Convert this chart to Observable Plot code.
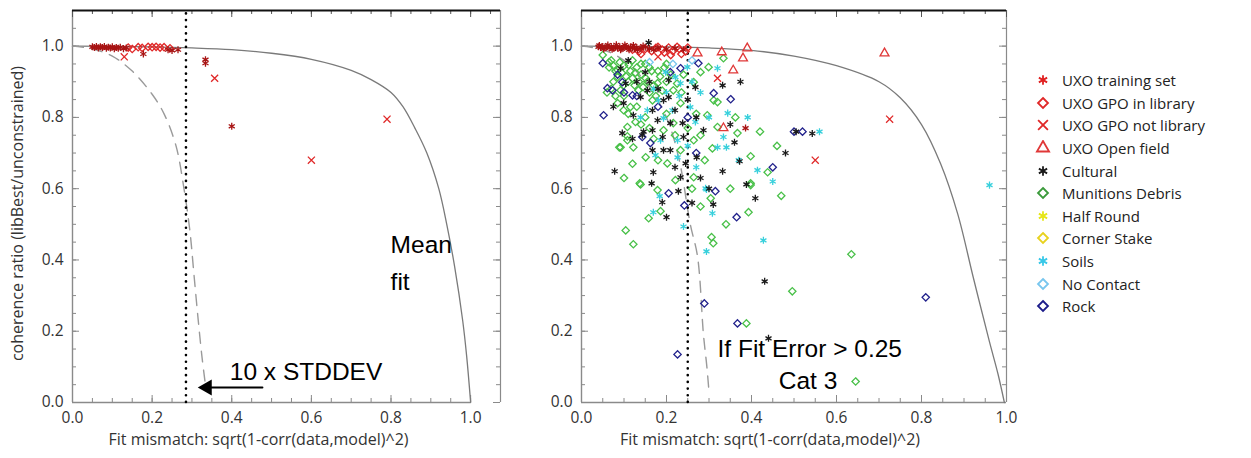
<!DOCTYPE html>
<html><head><meta charset="utf-8">
<script src="https://cdn.jsdelivr.net/npm/d3@7"></script>
<script src="https://cdn.jsdelivr.net/npm/@observablehq/plot@0.6"></script>
<style>
body{margin:0;background:#fff;width:1251px;height:458px;position:relative;overflow:hidden;font-family:"Open Sans",sans-serif}
.panel{position:absolute;top:0}
#legend{position:absolute;left:1034px;top:69px;font-family:"Open Sans",sans-serif;font-size:15px;color:#222}
#legend .row{height:22.6px;display:flex;align-items:center;white-space:nowrap}
#legend svg{width:18px;height:16px;margin-right:10px;flex:none}
</style></head><body>
<div id="p1" class="panel" style="left:0"></div>
<div id="p2" class="panel" style="left:510px"></div>
<div id="legend"></div>
<script>
// ---------- categories ----------
const categories = ["UXO training set","UXO GPO in library","UXO GPO not library","UXO Open field","Cultural","Munitions Debris","Half Round","Corner Stake","Soils","No Contact","Rock"];
const symbols = ["asterisk","diamond2","times","triangle","asterisk","diamond2","asterisk","diamond2","asterisk","diamond2","diamond2"];
const colors = ["#a81414","#e02828","#e02828","#e03838","#1a1a1a","#48c048","#e6e619","#e8d21e","#38d0dc","#78c6ee","#22228c"];
const legendColors = ["#e02020","#e02828","#e02828","#e03838","#1a1a1a","#3a9a3a","#e6e619","#e8d21e","#38c8e8","#78c6ee","#1c1c8a"];

// ---------- axes ----------
const xTicks = [0, 0.2, 0.4, 0.6, 0.8, 1.0];
const yTicks = [0, 0.2, 0.4, 0.6, 0.8, 1.0];

// ---------- left panel: curves ----------
const leftMeanX = [0, 0.2, 0.3, 0.4, 0.5, 0.6, 0.7, 0.75, 0.8, 0.83, 0.86, 0.89, 0.92, 0.94, 0.96, 0.98, 0.99, 1.0];
const leftMeanY = [1.0, 0.998, 0.995, 0.99, 0.98, 0.963, 0.932, 0.906, 0.87, 0.83, 0.77, 0.7, 0.6, 0.5, 0.38, 0.23, 0.13, 0.0];
const leftDashX = [0, 0.05, 0.1, 0.15, 0.2, 0.23, 0.26, 0.28, 0.295, 0.305, 0.315, 0.325, 0.335];
const leftDashY = [1.0, 0.992, 0.972, 0.93, 0.865, 0.81, 0.72, 0.6, 0.48, 0.36, 0.24, 0.13, 0.04];
const leftCutoff = [0.285];

// ---------- left panel: points ----------
const leftTraining = [[0.05,0.998],[0.055,0.996],[0.06,0.999],[0.065,0.995],[0.07,0.998],[0.075,0.996],[0.08,0.999],[0.085,0.994],[0.09,0.997],[0.095,0.995],[0.1,0.998],[0.105,0.993],[0.11,0.996],[0.115,0.994],[0.12,0.997],[0.128,0.993],[0.135,0.995],[0.178,0.978],[0.24,0.99],[0.25,0.988],[0.265,0.99],[0.334,0.962],[0.334,0.952],[0.40,0.775]];
const leftGpoIn = [[0.14,0.996],[0.15,0.992],[0.165,0.997],[0.175,0.995],[0.19,0.998],[0.2,0.997],[0.21,0.998],[0.22,0.996],[0.23,0.997],[0.245,0.994]];
const leftGpoNot = [[0.13,0.97],[0.357,0.91],[0.79,0.795],[0.6,0.68]];

// ---------- right panel: curves ----------
const rightMeanX = [0, 0.2, 0.3, 0.4, 0.5, 0.6, 0.7, 0.75, 0.8, 0.845, 0.885, 0.922, 0.96, 0.98, 0.995];
const rightMeanY = [1.0, 0.998, 0.995, 0.988, 0.972, 0.945, 0.9, 0.855, 0.78, 0.67, 0.53, 0.35, 0.17, 0.08, 0.0];
const rightDashX = [0, 0.05, 0.1, 0.15, 0.2, 0.23, 0.256, 0.273, 0.287, 0.295, 0.3];
const rightDashY = [1.0, 0.99, 0.96, 0.9, 0.8, 0.68, 0.5, 0.41, 0.19, 0.1, 0.03];
const rightCutoff = [0.25];

// ---------- right panel: points ----------
const rTraining = [[0.04,0.998],[0.045,0.996],[0.05,0.999],[0.055,0.995],[0.06,0.998],[0.065,0.996],[0.07,0.999],[0.075,0.994],[0.08,0.997],[0.085,0.995],[0.09,0.998],[0.095,0.993],[0.1,0.996],[0.105,0.999],[0.11,0.994],[0.115,0.997],[0.12,0.995],[0.125,0.992],[0.13,0.996],[0.14,0.994],[0.15,0.997],[0.16,0.993],[0.18,0.995],[0.2,0.992],[0.22,0.994],[0.24,0.99],[0.386,0.77],[0.042,1.002],[0.052,0.992],[0.062,1.003],[0.072,0.991],[0.082,1.004],[0.092,0.99],[0.102,1.003],[0.112,0.99],[0.122,1.002],[0.132,0.99],[0.145,1.0],[0.17,0.99]];
const rGpoIn = [[0.12,0.99],[0.135,0.985],[0.15,0.992],[0.165,0.986],[0.175,0.995],[0.19,0.99],[0.205,0.996],[0.215,0.986],[0.23,0.992],[0.245,0.985],[0.14,0.978],[0.18,0.998],[0.195,0.982],[0.21,0.975],[0.225,0.998],[0.235,0.978],[0.25,0.996]];
const rGpoNot = [[0.18,0.97],[0.32,0.91],[0.725,0.795],[0.55,0.68]];
const rOpen = [[0.273,0.98],[0.33,0.983],[0.39,0.994],[0.38,0.966],[0.357,0.932],[0.334,0.77],[0.713,0.98]];
const rCultural = [[0.158,1.01],[0.374,0.9],[0.332,0.89],[0.268,0.885],[0.205,0.905],[0.15,0.927],[0.092,0.938],[0.104,0.895],[0.075,0.83],[0.165,0.615],[0.228,0.593],[0.19,0.562],[0.388,0.612],[0.409,0.573],[0.31,0.556],[0.431,0.34],[0.44,0.18],[0.099,0.84],[0.155,0.876],[0.193,0.848],[0.167,0.82],[0.122,0.806],[0.139,0.857],[0.205,0.857],[0.179,0.792],[0.209,0.784],[0.096,0.756],[0.146,0.76],[0.167,0.764],[0.143,0.75],[0.191,0.745],[0.167,0.708],[0.193,0.708],[0.209,0.708],[0.238,0.784],[0.24,0.745],[0.287,0.764],[0.36,0.73],[0.372,0.677],[0.332,0.649],[0.271,0.688],[0.245,0.671],[0.233,0.632],[0.169,0.646],[0.078,0.649],[0.543,0.755],[0.505,0.76],[0.11,0.96],[0.13,0.9],[0.16,0.9],[0.18,0.88],[0.22,0.82],[0.25,0.85],[0.27,0.8],[0.12,0.74],[0.22,0.66],[0.28,0.63],[0.3,0.6],[0.26,0.56],[0.2,0.52],[0.48,0.7],[0.35,0.78]];
const rDebris = [[0.05,0.975],[0.085,0.913],[0.092,0.876],[0.099,0.82],[0.108,0.773],[0.089,0.716],[0.108,0.747],[0.137,0.615],[0.104,0.483],[0.122,0.444],[0.139,0.612],[0.179,0.596],[0.186,0.537],[0.158,0.517],[0.398,0.61],[0.393,0.534],[0.304,0.573],[0.306,0.464],[0.31,0.447],[0.635,0.416],[0.496,0.312],[0.388,0.222],[0.645,0.059],[0.111,0.947],[0.085,0.933],[0.127,0.925],[0.099,0.89],[0.134,0.876],[0.115,0.829],[0.127,0.787],[0.167,0.848],[0.216,0.876],[0.233,0.84],[0.179,0.896],[0.151,0.91],[0.108,0.736],[0.122,0.716],[0.092,0.716],[0.216,0.784],[0.193,0.764],[0.202,0.671],[0.151,0.688],[0.311,0.848],[0.296,0.806],[0.32,0.843],[0.362,0.8],[0.367,0.756],[0.32,0.773],[0.308,0.713],[0.398,0.691],[0.438,0.646],[0.398,0.615],[0.334,0.966],[0.299,0.941],[0.264,0.899],[0.28,0.927],[0.233,0.708],[0.264,0.736],[0.264,0.632],[0.221,0.624],[0.07,0.96],[0.065,0.94],[0.12,0.96],[0.14,0.95],[0.16,0.94],[0.18,0.93],[0.2,0.95],[0.075,0.9],[0.06,0.87],
  [0.065,0.955],[0.075,0.945],[0.08,0.93],[0.09,0.955],[0.095,0.925],[0.1,0.945],[0.105,0.915],[0.11,0.9],[0.115,0.93],[0.12,0.91],[0.125,0.89],[0.13,0.94],[0.135,0.9],[0.14,0.92],[0.145,0.885],[0.15,0.95],[0.155,0.9],[0.16,0.87],[0.165,0.93],[0.17,0.89],[0.175,0.86],[0.185,0.915],[0.19,0.875],[0.195,0.94],[0.2,0.9],[0.21,0.92],[0.225,0.895],[0.235,0.87],[0.24,0.92],[0.07,0.88],[0.08,0.86],[0.085,0.84],[0.1,0.86],[0.11,0.81],[0.13,0.83],[0.14,0.78],[0.15,0.8],[0.16,0.77],[0.17,0.74],[0.2,0.81],[0.22,0.75],[0.25,0.77],[0.27,0.81],[0.28,0.75],[0.29,0.68],[0.26,0.6],[0.18,0.68],[0.12,0.67],[0.1,0.63],[0.28,0.55],[0.35,0.6],[0.34,0.5],[0.42,0.76],[0.46,0.72],[0.47,0.58]];
const rHalfRound = [];
const rCornerStake = [];
const rSoils = [[0.184,0.579],[0.169,0.534],[0.294,0.598],[0.308,0.531],[0.24,0.494],[0.294,0.424],[0.428,0.455],[0.249,0.941],[0.32,0.938],[0.198,0.927],[0.221,0.913],[0.233,0.896],[0.181,0.848],[0.155,0.82],[0.214,0.82],[0.193,0.798],[0.139,0.8],[0.256,0.829],[0.268,0.787],[0.391,0.8],[0.344,0.812],[0.334,0.745],[0.32,0.716],[0.174,0.694],[0.186,0.736],[0.226,0.736],[0.292,0.601],[0.414,0.652],[0.341,0.716],[0.226,0.688],[0.96,0.61],[0.17,0.88],[0.2,0.87],[0.23,0.86],[0.26,0.9],[0.28,0.87],[0.3,0.8],[0.25,0.72],[0.27,0.66],[0.37,0.68],[0.45,0.62],[0.56,0.76]];
const rNoContact = [[0.16,0.955],[0.215,0.95],[0.26,0.96]];
const rRock = [[0.05,0.952],[0.061,0.882],[0.052,0.806],[0.096,0.899],[0.12,0.862],[0.209,0.927],[0.233,0.938],[0.275,0.952],[0.351,0.851],[0.311,0.868],[0.162,0.728],[0.143,0.745],[0.205,0.587],[0.315,0.593],[0.242,0.553],[0.365,0.52],[0.289,0.278],[0.367,0.222],[0.226,0.135],[0.81,0.295],[0.073,0.876],[0.5,0.76],[0.085,0.92],[0.1,0.87],[0.13,0.86],[0.18,0.83],[0.25,0.8],[0.27,0.7],[0.45,0.66],[0.52,0.76]];

// ---------- annotations ----------
const leftNotes = [{x:0.799, y:0.441, text:"Mean"}, {x:0.799, y:0.337, text:"fit"}, {x:0.395, y:0.085, text:"10 x STDDEV"}];
const leftArrowX = [0.477, 0.338];
const leftArrowY = [0.042, 0.042];
const rightNotes = [{x:0.32, y:0.149, text:"If Fit Error > 0.25"}, {x:0.464, y:0.059, text:"Cat 3"}];
const xTitle = "Fit mismatch: sqrt(1-corr(data,model)^2)";
const yTitle = "coherence ratio (libBest/unconstrained)";

function toRecords(groups) {
  const out = [];
  for (const [cat, pts] of groups) for (const [x, y] of pts) out.push({x, y, cat});
  return out;
}
const zip = (xs, ys) => xs.map((x, i) => [x, ys[i]]);

const H = 458, MT = 10, MB = 56, YMAX = 1.1;

function panel(cfg) {
  const {width, ml, mr, xMax, xAxisEnd, mean, dash, cutoff, recs, notes, arrow, titleDx, showYTitle} = cfg;
  const ppx = (width - ml - mr) / xMax;
  const ppy = (H - MT - MB) / YMAX;
  const lx = p => p / ppx, ly = p => p / ppy;
  const minorX = d3.range(0, xMax - 0.01, 0.05);
  const minorXB = d3.range(0, xAxisEnd + 1e-9, 0.05);
  const minorY = d3.range(0, 1.0501, 0.05);
  const axisC = "#8a8a8a";
  const marks = [
    Plot.ruleY([0], {x1: 0, x2: xAxisEnd, stroke: axisC, strokeWidth: 1.4}),
    Plot.ruleX([0], {y1: 0, y2: YMAX, stroke: axisC, strokeWidth: 1.4}),
    Plot.ruleX([xMax], {y1: 0, y2: YMAX, stroke: axisC, strokeWidth: 1.2}),
    Plot.ruleX(minorXB, {y1: 0, y2: ly(4), stroke: axisC}),
    Plot.ruleX(xTicks, {y1: 0, y2: ly(7), stroke: axisC}),
    Plot.ruleX(minorX, {y1: YMAX, y2: YMAX - ly(4), stroke: "#555"}),
    Plot.ruleX(xTicks, {y1: YMAX, y2: YMAX - ly(7), stroke: "#555"}),
    Plot.ruleY(minorY, {x1: 0, x2: lx(4), stroke: axisC}),
    Plot.ruleY(yTicks, {x1: 0, x2: lx(7), stroke: axisC}),
    Plot.ruleY(minorY, {x1: xMax, x2: xMax - lx(4), stroke: axisC}),
    Plot.ruleY(yTicks, {x1: xMax, x2: xMax - lx(7), stroke: axisC}),
    Plot.ruleY([YMAX], {x1: 0, x2: xMax, stroke: "#111", strokeWidth: 1.8}),
    Plot.axisX({ticks: xTicks, tickSize: 0, tickPadding: 9, tickFormat: d3.format(".1f"), label: null, fontSize: 15.5, fill: "#333"}),
    Plot.axisY({ticks: yTicks, tickSize: 0, tickPadding: 9, tickFormat: d3.format(".1f"), label: null, fontSize: 15.5, fill: "#333"}),
    Plot.text([xTitle], {frameAnchor: "bottom", textAnchor: "middle", dy: 42, dx: titleDx, fontSize: 16, fill: "#333", fontFamily: "Open Sans"}),
    Plot.line(mean, {stroke: "#7a7a7a", strokeWidth: 1.3, curve: "catmull-rom"}),
    Plot.line(dash, {stroke: "#9a9a9a", strokeWidth: 1.4, strokeDasharray: "11,8", curve: "catmull-rom"}),
    Plot.ruleX(cutoff, {y1: 0, y2: YMAX, stroke: "#000", strokeWidth: 2.6, strokeDasharray: "0.1,6.6", strokeLinecap: "round"}),
    Plot.dot(recs, {x: "x", y: "y", symbol: "cat", stroke: "cat", fill: "none", r: 3.3, strokeWidth: 1.3}),
    Plot.text(notes, {x: "x", y: "y", text: "text", textAnchor: "start", fontSize: 24.5, fill: "#000", fontFamily: "Liberation Sans, Arial, sans-serif"})
  ];
  if (showYTitle) marks.push(Plot.text([yTitle], {frameAnchor: "left", textAnchor: "middle", rotate: -90, dx: -55, dy: 7, fontSize: 16, fill: "#333", fontFamily: "Open Sans"}));
  if (arrow) {
    marks.push(Plot.line(arrow, {stroke: "#000", strokeWidth: 2}));
    marks.push(Plot.dot(arrow.slice(-1), {symbol: "triangle", rotate: -90, fill: "#000", r: 6}));
  }
  return Plot.plot({
    width, height: H, marginLeft: ml, marginRight: mr, marginTop: MT, marginBottom: MB,
    style: {fontFamily: "Open Sans", fontSize: "16px", color: "#333", background: "transparent", overflow: "visible"},
    x: {domain: [0, xMax]}, y: {domain: [0, YMAX]},
    symbol: {domain: categories, range: symbols},
    color: {domain: categories, range: colors},
    marks
  });
}

const leftRecs = toRecords([[categories[1], leftGpoIn],[categories[0], leftTraining],[categories[2], leftGpoNot]]);
const rightRecs = toRecords([
  [categories[5], rDebris],[categories[9], rNoContact],[categories[10], rRock],[categories[8], rSoils],
  [categories[6], rHalfRound],[categories[7], rCornerStake],[categories[4], rCultural],
  [categories[1], rGpoIn],[categories[0], rTraining],[categories[2], rGpoNot],[categories[3], rOpen]
]);

document.getElementById("p1").append(panel({
  width: 505, ml: 72, mr: 5, xMax: 1.075, xAxisEnd: 1.0,
  mean: zip(leftMeanX, leftMeanY), dash: zip(leftDashX, leftDashY), cutoff: leftCutoff,
  recs: leftRecs, notes: leftNotes, arrow: zip(leftArrowX, leftArrowY), titleDx: -28, showYTitle: true
}));
document.getElementById("p2").append(panel({
  width: 530, ml: 71, mr: 34, xMax: 1.0, xAxisEnd: 1.0,
  mean: zip(rightMeanX, rightMeanY), dash: zip(rightDashX, rightDashY), cutoff: rightCutoff,
  recs: rightRecs, notes: rightNotes, arrow: null, titleDx: -24, showYTitle: false
}));

const leg = d3.select("#legend");
categories.forEach((c, i) => {
  const row = leg.append("div").attr("class", "row");
  const svg = row.append("svg").attr("viewBox", "-9 -8 18 16");
  const type = {asterisk: d3.symbolAsterisk, diamond2: d3.symbolDiamond2, times: d3.symbolTimes, triangle: d3.symbolTriangle}[symbols[i]];
  svg.append("path").attr("d", d3.symbol(type, 64)()).attr("fill", "none").attr("stroke", legendColors[i]).attr("stroke-width", 1.8);
  row.append("span").text(c);
});
</script>
</body></html>
